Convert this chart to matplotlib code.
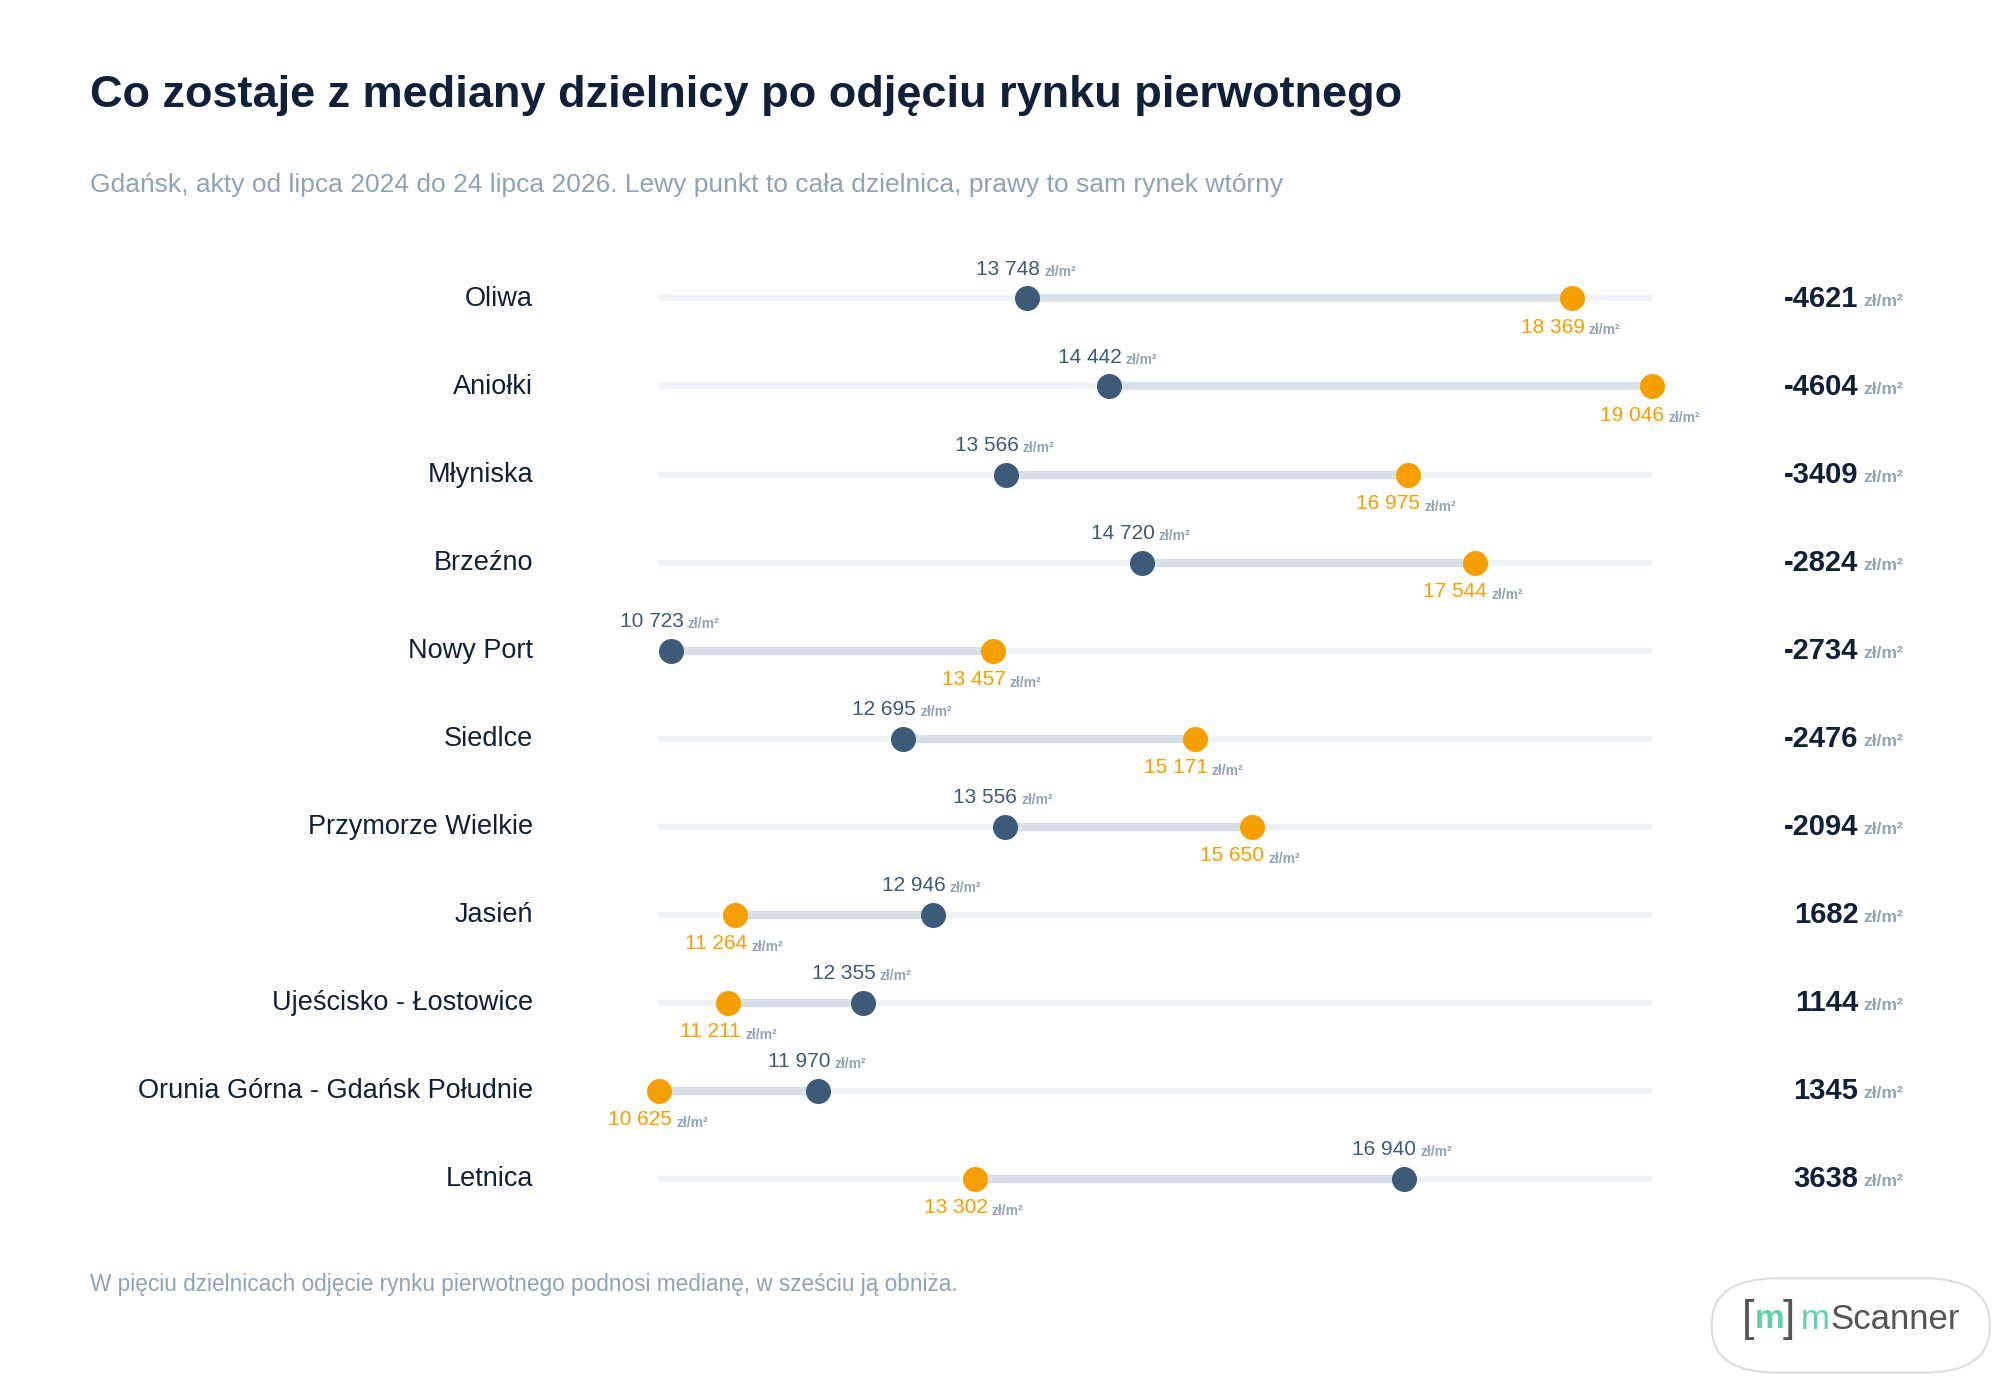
import matplotlib
matplotlib.use("Agg")
import matplotlib.pyplot as plt
from matplotlib.patches import FancyBboxPatch

districts = ["Oliwa", "Aniołki", "Młyniska", "Brzeźno", "Nowy Port", "Siedlce",
             "Przymorze Wielkie", "Jasień", "Ujeścisko - Łostowice",
             "Orunia Górna - Gdańsk Południe", "Letnica"]
whole = [13748, 14442, 13566, 14720, 10723, 12695, 13556, 12946, 12355, 11970, 16940]
secondary = [18369, 19046, 16975, 17544, 13457, 15171, 15650, 11264, 11211, 10625, 13302]
deltas = ["-4621", "-4604", "-3409", "-2824", "-2734", "-2476", "-2094", "1682", "1144", "1345", "3638"]

plt.rcParams['font.family'] = ['Liberation Sans', 'DejaVu Sans']
DARK = "#3d5a78"; ORANGE = "#f5a000"; NAVY = "#0f2038"; GREY = "#8fa3b8"

fig = plt.figure(figsize=(20, 13.88), dpi=100)
fig.text(0.045, 0.931, "Co zostaje z mediany dzielnicy po odjęciu rynku pierwotnego",
         fontsize=32.5, fontweight='bold', color=NAVY, va='center')
fig.text(0.045, 0.867, "Gdańsk, akty od lipca 2024 do 24 lipca 2026. Lewy punkt to cała dzielnica, prawy to sam rynek wtórny",
         fontsize=19, color=GREY, va='center')
fig.text(0.045, 0.0745, "W pięciu dzielnicach odjęcie rynku pierwotnego podnosi medianę, w sześciu ją obniża.",
         fontsize=16.3, color=GREY, va='center')

xmin, xmax = 10625, 19046
step = 0.06343
ax = fig.add_axes([517/1568, 0.1507 - 0.5*step, (1295-517)/1568, 11*step])
ax.set_xlim(xmin, xmax)
ax.set_ylim(10.5, -0.5)
ax.axis('off')

def fmt(v):
    return f"{v:,}".replace(",", " ")

for i, (d, w, s, dl) in enumerate(zip(districts, whole, secondary, deltas)):
    ax.plot([xmin, xmax], [i, i], color="#eef2f6", lw=4, solid_capstyle='butt', zorder=1)
    ax.plot([w, s], [i, i], color="#d8e0ea", lw=6, solid_capstyle='butt', zorder=2)
    ax.plot([w], [i], 'o', color=DARK, ms=17, zorder=3, clip_on=False)
    ax.plot([s], [i], 'o', color=ORANGE, ms=17, zorder=3, clip_on=False)
    ax.annotate(fmt(w), (w, i), xytext=(9, 14), textcoords='offset points',
                ha='right', va='bottom', fontsize=15, color=DARK)
    ax.annotate("zł/m²", (w, i), xytext=(12, 14), textcoords='offset points',
                ha='left', va='bottom', fontsize=10, color=GREY, fontweight='bold')
    ax.annotate(fmt(s), (s, i), xytext=(9, -14), textcoords='offset points',
                ha='right', va='top', fontsize=15, color=ORANGE)
    ax.annotate("zł/m²", (s, i), xytext=(12, -18), textcoords='offset points',
                ha='left', va='top', fontsize=10, color=GREY, fontweight='bold')
    y = 1 - (234 + 69*i)/1088
    fig.text(418/1568, y, d, ha='right', va='center', fontsize=19.5, color=NAVY)
    fig.text(1457/1568, y, dl, ha='right', va='center', fontsize=21, color=NAVY, fontweight='bold')
    fig.text(1461/1568, y - 0.002, "zł/m²", ha='left', va='center', fontsize=12.5, color=GREY, fontweight='bold')

box = FancyBboxPatch((1342/1568, 12/1088), 218/1568, 74/1088,
                     boxstyle="round,pad=0,rounding_size=0.033", transform=fig.transFigure,
                     facecolor='white', edgecolor='#dddddd', lw=1.5, mutation_aspect=1)
fig.patches.append(box)
fig.text(1366/1568, 1 - 1034/1088, "[", fontsize=32, color='#555555', va='center', ha='left')
fig.text(1376/1568, 1 - 1034/1088, "m", fontsize=24, color='#5fd3a8', va='center', ha='left', fontweight='bold')
fig.text(1398/1568, 1 - 1034/1088, "]", fontsize=32, color='#555555', va='center', ha='left')
fig.text(1412/1568, 1 - 1034/1088, "m", fontsize=25, color='#5fd3a8', va='center', ha='left')
fig.text(1435/1568, 1 - 1034/1088, "Scanner", fontsize=25, color='#555555', va='center', ha='left')

fig.savefig("out.png", dpi=100, facecolor='white')
